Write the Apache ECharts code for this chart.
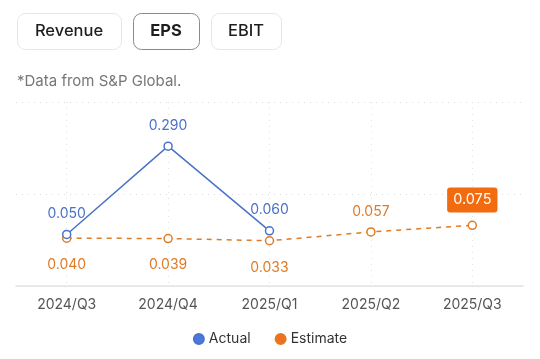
<!DOCTYPE html>
<html><head><meta charset="utf-8">
<script src="https://cdn.jsdelivr.net/npm/echarts@6/dist/echarts.min.js"></script>
<style>html,body{margin:0;padding:0;background:#fff}#c{width:540px;height:359px}</style>
</head><body><div id="c"></div>
<script>
const categories = ['2024/Q3','2024/Q4','2025/Q1','2025/Q2','2025/Q3'];
const actual = [0.050, 0.290, 0.060, null, null];
const estimate = [0.040, 0.039, 0.033, 0.057, 0.075];
const tabs = ['Revenue','EPS','EBIT'];
const note = '*Data from S&P Global.';

const BLUE = '#4a72c8', ORANGE = '#e07b24', FONT = 'Inter, "Noto Sans", sans-serif';
const chart = echarts.init(document.getElementById('c'));

const estData = estimate.map((v, i) => {
  const last = i === estimate.length - 1;
  const below = actual[i] != null;
  const item = { value: v, label: { position: below ? 'bottom' : 'top', distance: below ? 15 : 8 } };
  if (last) {
    item.label = { position: 'top', distance: 8, color: '#fff', backgroundColor: '#f26b0f',
      borderRadius: 3, padding: [5, 6, 5, 6], fontSize: 14.5 };
  }
  return item;
});

const tabX = [17, 133, 211], tabW = [104, 66, 70];
const graphic = [];
tabs.forEach((t, i) => {
  graphic.push({ type: 'rect', left: tabX[i], top: 13, shape: { width: tabW[i], height: 36, r: 8 },
    style: { fill: '#fff', stroke: i === 1 ? '#8a8a8a' : '#e6e6e6', lineWidth: 1 } });
  graphic.push({ type: 'text', x: tabX[i] + tabW[i] / 2, y: 31,
    style: { text: t, font: (i === 1 ? 'bold ' : '500 ') + '16.5px ' + FONT, fill: '#1e1e1e',
      textAlign: 'center', textVerticalAlign: 'middle' } });
});
graphic.push({ type: 'text', x: 17, y: 81, style: { text: note, font: '15px ' + FONT, fill: '#777',
  textVerticalAlign: 'middle' } });

chart.setOption({
  animation: false,
  textStyle: { fontFamily: FONT },
  graphic,
  grid: { left: 16, right: 17, top: 102, bottom: 73, containLabel: false },
  legend: { bottom: 8, left: 'center', itemWidth: 10, itemHeight: 10, itemGap: 24, icon: 'circle',
    textStyle: { fontSize: 14, color: '#333', fontFamily: FONT },
    data: [{ name: 'Actual', itemStyle: { color: '#4a78e0' } }, { name: 'Estimate', itemStyle: { color: '#f07020' } }] },
  xAxis: { type: 'category', data: categories,
    axisLine: { onZero: false, lineStyle: { color: '#e2e2e2', width: 1.5 } }, axisTick: { show: false },
    axisLabel: { color: '#555', fontSize: 14, margin: 12, fontFamily: FONT },
    splitLine: { show: true, alignWithLabel: true, lineStyle: { color: '#e2e2e2', type: [1, 5] } } },
  yAxis: { type: 'value', min: -0.09, max: 0.41, interval: 0.25,
    axisLabel: { show: false }, axisLine: { show: false }, axisTick: { show: false },
    splitLine: { lineStyle: { color: '#dcdcdc', type: [1, 5] } } },
  series: [
    { name: 'Actual', type: 'line', data: actual, connectNulls: false, symbol: 'circle', symbolSize: 8,
      showAllSymbol: true,
      itemStyle: { color: '#fff', borderColor: BLUE, borderWidth: 1.5 },
      lineStyle: { color: BLUE, width: 1.5 },
      label: { show: true, position: 'top', distance: 9, color: BLUE, fontSize: 14, fontFamily: FONT,
        formatter: p => p.value.toFixed(3) }, z: 3 },
    { name: 'Estimate', type: 'line', data: estData, symbol: 'circle', symbolSize: 8, showAllSymbol: true,
      itemStyle: { color: '#fff', borderColor: ORANGE, borderWidth: 1.5 },
      lineStyle: { color: ORANGE, width: 1.5, type: [5, 5] },
      label: { show: true, color: ORANGE, fontSize: 14, fontFamily: FONT,
        formatter: p => p.value.toFixed(3) }, z: 2 }
  ]
});
</script></body></html>
